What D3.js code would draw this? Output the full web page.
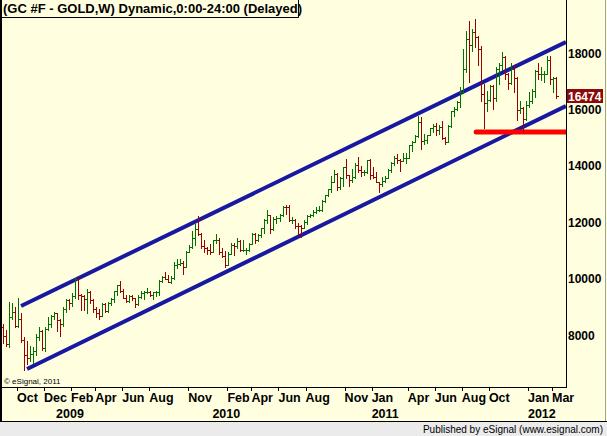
<!DOCTYPE html>
<html>
<head>
<meta charset="utf-8">
<script src="https://cdn.jsdelivr.net/npm/d3@7"></script>
<style>
  body { margin: 0; background: #ffffff; }
  svg text { font-family: "Liberation Sans", Arial, sans-serif; }
</style>
</head>
<body>
<div id="chart"></div>
<script>

// weekly bars, [open, high, low, close], one entry per week starting at firstWeek
var firstWeek = "2008-09-05";

var ohlc2008 = [
    [8300, 8410, 7740, 7980], [7980, 8200, 7650, 7700], [7700, 9200, 7600, 8650], [8650, 9150, 8600, 8850],
    [8850, 9000, 8300, 8350], [8350, 9340, 8300, 8600], [8600, 8800, 7770, 7850], [7850, 7950, 6790, 7300],
    [7300, 7800, 7000, 7200], [7200, 7650, 7100, 7350], [7350, 7600, 7050, 7450], [7450, 8050, 7300, 7950],
    [7950, 8300, 7850, 8150], [8150, 8200, 7500, 7550], [7550, 8300, 7450, 8250], [8250, 8650, 8200, 8400],
    [8400, 8750, 8300, 8700]
];

var ohlc2009 = [
    [8700, 8850, 8600, 8800], [8800, 8800, 8150, 8550], [8550, 8600, 7980, 8400], [8400, 9000, 8350, 8950],
    [8950, 9300, 8850, 9270], [9270, 9300, 8950, 9150], [9150, 9500, 9050, 9400], [9400, 10050, 9350, 10020],
    [10000, 10050, 9300, 9430], [9430, 9480, 8900, 9400], [9400, 9450, 8900, 9300], [9300, 9650, 8800, 9550],
    [9550, 9600, 9150, 9250], [9250, 9300, 8850, 8950], [8950, 9000, 8650, 8800], [8800, 8950, 8600, 8700],
    [8700, 9150, 8700, 9120], [9120, 9150, 8850, 8880], [8880, 9200, 8850, 9160], [9160, 9350, 9100, 9300],
    [9300, 9600, 9180, 9580], [9580, 9800, 9450, 9780], [9780, 9920, 9550, 9600], [9600, 9650, 9350, 9350],
    [9350, 9450, 9200, 9230], [9230, 9450, 9200, 9400], [9400, 9450, 9250, 9320], [9320, 9330, 9030, 9120],
    [9120, 9450, 9100, 9380], [9380, 9600, 9350, 9500], [9500, 9600, 9300, 9550], [9550, 9700, 9500, 9560],
    [9560, 9580, 9400, 9450], [9450, 9550, 9300, 9530], [9530, 9600, 9400, 9560], [9560, 9980, 9450, 9950],
    [9950, 10100, 9900, 10070], [10070, 10250, 10000, 10020], [10020, 10150, 9900, 9900], [9900, 10100, 9850, 10040],
    [10040, 10600, 10020, 10500], [10500, 10700, 10400, 10550], [10550, 10700, 10500, 10570], [10570, 10650, 10200, 10450],
    [10450, 11000, 10420, 10960], [10960, 11200, 10950, 11150], [11150, 11700, 11100, 11460], [11460, 11950, 11200, 11780],
    [11780, 12250, 11580, 11610], [11610, 11650, 11100, 11190], [11190, 11400, 10950, 11100], [11100, 11150, 10900, 11050]
];

var ohlc2010 = [
    [11050, 11250, 10900, 10980], [10980, 11400, 10950, 11380], [11380, 11600, 11300, 11400], [11400, 11450, 10900, 10970],
    [10970, 11100, 10800, 10830], [10830, 11000, 10450, 10500], [10500, 10950, 10500, 10900], [10900, 11300, 10900, 11200],
    [11200, 11300, 10850, 11180], [11180, 11450, 11100, 11340], [11340, 11400, 11000, 11030], [11030, 11400, 11000, 11050],
    [11050, 11100, 10880, 11050], [11050, 11300, 11000, 11260], [11260, 11650, 11250, 11610], [11610, 11650, 11300, 11380],
    [11380, 11600, 11350, 11560], [11560, 11800, 11500, 11800], [11800, 12150, 11650, 12100], [12100, 12450, 12000, 12270],
    [12270, 12290, 11650, 11770], [11770, 12200, 11750, 12130], [12130, 12250, 12000, 12180], [12180, 12300, 12050, 12270],
    [12270, 12600, 12250, 12570], [12570, 12630, 12300, 12560], [12560, 12620, 12050, 12080], [12080, 12200, 11980, 12100],
    [12100, 12150, 11800, 11900], [11900, 12000, 11580, 11880], [11880, 11930, 11510, 11810], [11810, 12080, 11800, 12030],
    [12030, 12270, 11950, 12250], [12250, 12300, 12200, 12280], [12280, 12450, 12250, 12370], [12370, 12550, 12350, 12460],
    [12460, 12600, 12400, 12460], [12460, 12800, 12430, 12770], [12770, 13000, 12750, 12980], [12980, 13200, 12950, 13180],
    [13180, 13650, 13100, 13460], [13460, 13870, 13450, 13720], [13720, 13750, 13150, 13260], [13260, 13630, 13200, 13580],
    [13580, 13990, 13300, 13980], [13980, 14240, 13570, 13680], [13680, 13700, 13310, 13530], [13530, 13900, 13450, 13630],
    [13630, 14100, 13580, 14060], [14060, 14320, 13800, 13850], [13850, 14000, 13650, 13800], [13800, 13880, 13700, 13800],
    [13800, 14220, 13770, 14210]
];

var ohlc2011 = [
    [14210, 14240, 13540, 13690], [13690, 13970, 13580, 13610], [13610, 13800, 13440, 13440], [13440, 13450, 13090, 13380],
    [13380, 13610, 13300, 13480], [13480, 13640, 13450, 13600], [13600, 13900, 13600, 13870], [13870, 14150, 13810, 14100],
    [14100, 14380, 14060, 14290], [14290, 14450, 14100, 14210], [14210, 14250, 13840, 14180], [14180, 14470, 14180, 14290],
    [14290, 14480, 14130, 14300], [14300, 14750, 14300, 14740], [14740, 14900, 14550, 14860], [14860, 15100, 14850, 15080],
    [15080, 15770, 15050, 15560], [15560, 15750, 14620, 14910], [14910, 15160, 14800, 14930], [14930, 15120, 14820, 15120],
    [15120, 15370, 15090, 15360], [15360, 15500, 15230, 15420], [15420, 15520, 15090, 15270], [15270, 15450, 15160, 15390],
    [15390, 15590, 14950, 15000], [15000, 15050, 14780, 14860], [14860, 15450, 14850, 15420], [15420, 15950, 15400, 15950],
    [15950, 16100, 15780, 16010], [16010, 16300, 16000, 16280], [16280, 16820, 16110, 16630], [16630, 18150, 16610, 17450],
    [17450, 18790, 17350, 18510], [18510, 19130, 17000, 18280], [18280, 18850, 18080, 18760], [18760, 19230, 18210, 18570],
    [18570, 18600, 17600, 18140], [18140, 18250, 16300, 16570], [16570, 16900, 15340, 16230], [16230, 16650, 15960, 16350],
    [16350, 16870, 16300, 16830], [16830, 16880, 16040, 16420], [16420, 17500, 16300, 17460], [17460, 17660, 16900, 17570],
    [17570, 18030, 17420, 17880], [17880, 17890, 17090, 17250], [17250, 17300, 16720, 16950], [16950, 17640, 16900, 17460],
    [17460, 17600, 16630, 17130], [17130, 17150, 15640, 16000], [16000, 16300, 15900, 16060], [16060, 16100, 15230, 15660]
];

var ohlc2012 = [
    [15660, 16300, 15640, 16170], [16170, 16620, 16100, 16300], [16300, 16720, 16250, 16650], [16650, 17400, 16440, 17390],
    [17390, 17650, 17090, 17250], [17250, 17520, 17050, 17250], [17250, 17370, 16970, 17270], [17270, 17900, 17250, 17780],
    [17780, 17920, 16900, 17100], [17100, 17170, 16640, 17140], [17140, 17150, 16400, 16474]
];

var lastPrice = 16474;

// price axis
var yTicks = [8000, 10000, 12000, 14000, 16000, 18000];

// time axis labels
var monthLabels = [
    ["2008-10-01", "Oct"], ["2008-12-01", "Dec"], ["2009-02-01", "Feb"], ["2009-04-01", "Apr"],
    ["2009-06-01", "Jun"], ["2009-08-01", "Aug"], ["2009-11-01", "Nov"], ["2010-02-01", "Feb"],
    ["2010-04-01", "Apr"], ["2010-06-01", "Jun"], ["2010-08-01", "Aug"], ["2010-11-01", "Nov"],
    ["2011-01-01", "Jan"], ["2011-04-01", "Apr"], ["2011-06-01", "Jun"], ["2011-08-01", "Aug"],
    ["2011-10-01", "Oct"], ["2012-01-01", "Jan"], ["2012-03-01", "Mar"]
];
var yearLabels = [["2009-01-01", "2009"], ["2010-01-01", "2010"], ["2011-01-01", "2011"], ["2012-01-01", "2012"]];

// drawn trend channel and support line: [date, price]
var upperChannel = [["2008-10-17", 9050], ["2012-04-08", 18400]];
var lowerChannel = [["2008-10-31", 6820], ["2012-04-08", 16130]];
var supportLine = [["2011-09-12", 15213], ["2012-04-08", 15213]];

var titleText = "(GC #F - GOLD,W) Dynamic,0:00-24:00 (Delayed)";


var parseDate = d3.timeParse("%Y-%m-%d");

// build bar records
var allBars = ohlc2008.concat(ohlc2009, ohlc2010, ohlc2011, ohlc2012);
var start = parseDate(firstWeek);
var bars = allBars.map(function (b, i) {
    return { date: d3.timeDay.offset(start, 7 * i), open: b[0], high: b[1], low: b[2], close: b[3] };
});

var svgWidth = 607;
var svgHeight = 436;

// plot box (price axis on the right)
var plotLeft = 1, plotRight = 566, plotTop = 0, plotBottom = 387;

var bg = "#ffffe0";

var svg = d3.select("#chart").append("svg")
    .attr("width", svgWidth)
    .attr("height", svgHeight);

svg.append("rect")
    .attr("width", svgWidth)
    .attr("height", svgHeight)
    .attr("fill", bg);

var xScale = d3.scaleTime()
    .domain([bars[0].date, bars[bars.length - 1].date])
    .range([3, 556]);

var yScale = d3.scaleLinear()
    .domain([8000, 18000])
    .range([335.7, 53.3]);

svg.append("clipPath").attr("id", "plotClip")
    .append("rect")
    .attr("x", plotLeft)
    .attr("y", plotTop)
    .attr("width", plotRight - plotLeft)
    .attr("height", plotBottom - plotTop);

var plot = svg.append("g").attr("clip-path", "url(#plotClip)");

// channel lines
var lineGen = d3.line()
    .x(function (d) { return xScale(parseDate(d[0])); })
    .y(function (d) { return yScale(d[1]); });

[upperChannel, lowerChannel].forEach(function (pts) {
    plot.append("path")
        .attr("d", lineGen(pts))
        .attr("fill", "none")
        .attr("stroke", "#1818a0")
        .attr("stroke-width", 4);
});

plot.append("path")
    .attr("d", lineGen(supportLine))
    .attr("fill", "none")
    .attr("stroke", "#ff0000")
    .attr("stroke-width", 5)
    .attr("stroke-linecap", "round");

// OHLC bars
var barColor = function (d) { return d.close >= d.open ? "#007000" : "#9a0000"; };
var px = function (d) { return Math.round(xScale(d.date)) + 0.5; };
var py = function (v) { return Math.round(yScale(v)) + 0.5; };

var barG = plot.selectAll(".bar").data(bars).enter()
    .append("g")
    .attr("class", "bar")
    .attr("stroke", barColor)
    .attr("stroke-width", 1)
    .attr("shape-rendering", "crispEdges");

barG.append("line")
    .attr("x1", px).attr("x2", px)
    .attr("y1", function (d) { return py(d.high) - 0.5; })
    .attr("y2", function (d) { return py(d.low) + 0.5; });

barG.append("line")
    .attr("x1", function (d) { return px(d) - 2; }).attr("x2", px)
    .attr("y1", function (d) { return py(d.open); })
    .attr("y2", function (d) { return py(d.open); });

barG.append("line")
    .attr("x1", px).attr("x2", function (d) { return px(d) + 2.5; })
    .attr("y1", function (d) { return py(d.close); })
    .attr("y2", function (d) { return py(d.close); });

// frame lines
svg.append("line")
    .attr("x1", plotRight + 0.5).attr("x2", plotRight + 0.5)
    .attr("y1", 0).attr("y2", plotBottom + 1)
    .attr("stroke", "#000");
svg.append("line")
    .attr("x1", 0).attr("x2", plotRight + 1)
    .attr("y1", plotBottom + 0.5).attr("y2", plotBottom + 0.5)
    .attr("stroke", "#000");
svg.append("line")
    .attr("x1", 1).attr("x2", 1)
    .attr("y1", 0).attr("y2", 422)
    .attr("stroke", "#000")
    .attr("stroke-width", 2);
svg.append("line")
    .attr("x1", 605.5).attr("x2", 605.5)
    .attr("y1", 0).attr("y2", 421)
    .attr("stroke", "#a0a0a0");

// title box
svg.append("text")
    .attr("x", 3)
    .attr("y", 13)
    .attr("font-size", "13px")
    .attr("font-weight", "bold")
    .attr("fill", "#000")
    .text(titleText);
svg.append("path")
    .attr("d", "M0,17.5H298.5V0")
    .attr("fill", "none")
    .attr("stroke", "#000");

// price labels
svg.selectAll(".ylab").data(yTicks).enter()
    .append("text")
    .attr("class", "ylab")
    .attr("x", plotRight + 2)
    .attr("y", function (d) { return yScale(d); })
    .attr("dy", "0.35em")
    .attr("font-size", "12px")
    .attr("font-weight", "bold")
    .attr("fill", "#000")
    .text(function (d) { return d; });

// last price marker
svg.append("rect")
    .attr("x", plotRight + 1)
    .attr("y", Math.round(yScale(lastPrice)) - 7)
    .attr("width", 36)
    .attr("height", 14)
    .attr("fill", "#8c0a0a");
svg.append("text")
    .attr("x", plotRight + 2)
    .attr("y", yScale(lastPrice))
    .attr("dy", "0.35em")
    .attr("font-size", "12px")
    .attr("font-weight", "bold")
    .attr("fill", "#ffffff")
    .text(lastPrice);

// time labels, placed at the first weekly bar of the month
var labelX = function (d) { return xScale(d3.timeFriday.ceil(parseDate(d[0]))) + 2; };

svg.selectAll(".tick").data(monthLabels).enter()
    .append("line")
    .attr("class", "tick")
    .attr("x1", function (d) { return Math.round(labelX(d)) + 0.5; })
    .attr("x2", function (d) { return Math.round(labelX(d)) + 0.5; })
    .attr("y1", plotBottom + 1)
    .attr("y2", plotBottom + 4)
    .attr("stroke", "#000");

svg.selectAll(".mlab").data(monthLabels).enter()
    .append("text")
    .attr("class", "mlab")
    .attr("x", labelX)
    .attr("y", 402)
    .attr("font-size", "12.5px")
    .attr("font-weight", "bold")
    .text(function (d) { return d[1]; });

svg.selectAll(".ylabel").data(yearLabels).enter()
    .append("text")
    .attr("class", "ylabel")
    .attr("x", labelX)
    .attr("y", 418)
    .attr("font-size", "12.5px")
    .attr("font-weight", "bold")
    .text(function (d) { return d[1]; });

// copyright note
svg.append("text")
    .attr("x", 4)
    .attr("y", 384)
    .attr("font-size", "8px")
    .text("\u00a9 eSignal, 2011");

// footer
svg.append("rect")
    .attr("x", 0).attr("y", 422)
    .attr("width", svgWidth).attr("height", 14)
    .attr("fill", "#ebebeb");
svg.append("line")
    .attr("x1", 0).attr("x2", svgWidth)
    .attr("y1", 421.5).attr("y2", 421.5)
    .attr("stroke", "#000");
svg.append("text")
    .attr("x", 603)
    .attr("y", 433)
    .attr("text-anchor", "end")
    .attr("font-size", "10px")
    .text("Published by eSignal (www.esignal.com)");

</script>
</body>
</html>
